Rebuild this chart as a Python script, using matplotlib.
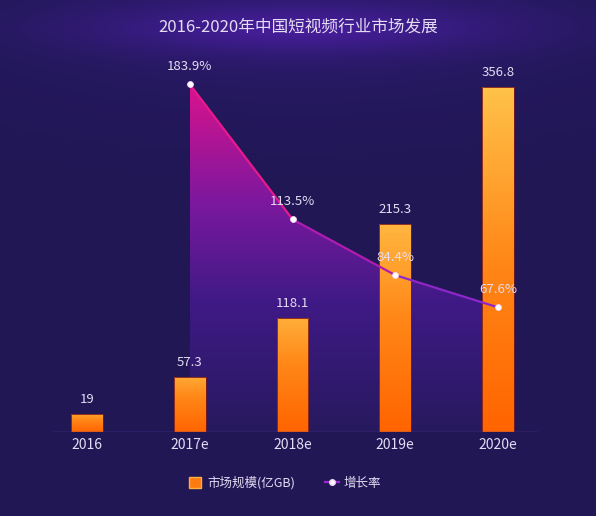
import numpy as np
import matplotlib
matplotlib.use("Agg")
import matplotlib.pyplot as plt
from matplotlib.colors import LinearSegmentedColormap
from matplotlib.collections import LineCollection
from matplotlib.lines import Line2D
from matplotlib.patches import Patch, Polygon

plt.rcParams['font.family'] = ['Noto Sans CJK SC', 'DejaVu Sans']

# data
years = ["2016", "2017e", "2018e", "2019e", "2020e"]
market_size = [19, 57.3, 118.1, 215.3, 356.8]  # 亿GB
growth_years = [1, 2, 3, 4]
growth_rate = [183.9, 113.5, 84.4, 67.6]  # %

title = "2016-2020年中国短视频行业市场发展"
bg = "#22175a"
txt = "#e4dcf2"

W, H = 596, 516
fig = plt.figure(figsize=(W / 100, H / 100), dpi=100)
fig.patch.set_facecolor(bg)

# background with a soft glow behind the title
bax = fig.add_axes([0, 0, 1, 1])
yy, xx = np.mgrid[0:H, 0:W]
glow = np.exp(-(((xx - 298) / 190.0) ** 2 + ((yy - 28) / 24.0) ** 2))
glow2 = np.exp(-(((xx - 298) / 320.0) ** 2 + ((yy - 20) / 90.0) ** 2))
base = np.array([0x21, 0x17, 0x55]) / 255
hi = np.array([0x4a, 0x1e, 0xa0]) / 255
mid = np.array([0x2a, 0x1a, 0x6a]) / 255
img = base[None, None, :] * np.ones((H, W, 1))
img = img + (mid - base)[None, None, :] * glow2[..., None]
img = img + (hi - img) * (0.85 * glow[..., None])
bax.imshow(np.clip(img, 0, 1), extent=[0, W, H, 0], aspect='auto')
bax.set_xlim(0, W)
bax.set_ylim(H, 0)
bax.axis('off')

# main axes: baseline at y=432px, left 53px, right 538px
ax = fig.add_axes([53 / W, (H - 432) / H, (538 - 53) / W, (432 - 60) / H])
ax.set_facecolor('none')
x = np.arange(len(years))
ax.set_xlim(-0.331, 4.389)
ax.set_ylim(0, 384.7)

# growth rate on a twin axis (drawn on top: line, dots, labels)
ax2 = ax.twinx()
ax2.set_xlim(-0.331, 4.389)
ax2.set_ylim(2.6, 196.6)
ax2.set_yticks([])
ax2.patch.set_visible(False)
for s in ax2.spines.values():
    s.set_visible(False)

# area under the growth line, placed behind the bars on the main axes
verts = [(growth_years[0], 0)] + list(zip(growth_years, growth_rate)) + [(growth_years[-1], 0)]
area = Polygon(verts, closed=True, facecolor='none', edgecolor='none',
               transform=ax2.transData)
ax.add_patch(area)
fill_cmap = LinearSegmentedColormap.from_list(
    "fill", [(0, "#27195e"), (0.35, "#3f1a86"), (0.62, "#7c189e"), (0.95, "#e0128c"), (1, "#e8148c")])
g2 = np.linspace(0, 1, 256).reshape(-1, 1)
im2 = ax.imshow(g2[::-1], cmap=fill_cmap, origin='upper',
                extent=[1, 4, 0, 384.7], aspect='auto', zorder=1)
im2.set_clip_path(area)

bar_w = 0.31
bars = ax.bar(x, market_size, width=bar_w, color='none', edgecolor='#7a1c1c',
              linewidth=0.6, zorder=3)
bar_cmap = LinearSegmentedColormap.from_list("bar", ["#ff6400", "#ff8818", "#ffc24a"])
grad = np.linspace(0, 1, 256).reshape(-1, 1)
for rect, v in zip(bars.patches, market_size):
    x0 = rect.get_x()
    k = 0.75 + 0.25 * v / 356.8
    im = ax.imshow(grad[::-1] * k, cmap=bar_cmap, vmin=0, vmax=1, origin='upper',
                   extent=[x0, x0 + bar_w, 0, v], aspect='auto', zorder=2)
    im.set_clip_path(rect)
    ax.text(rect.get_x() + bar_w / 2, v + 8, f"{v:g}", ha='center', va='bottom',
            color=txt, fontsize=9.5, zorder=6)

ax.axhline(0, color='#4a3aa0', linewidth=1.0, zorder=4)
for s in ax.spines.values():
    s.set_visible(False)
ax.set_yticks([])
ax.set_xticks(x)
ax.set_xticklabels(years, color=txt, fontsize=10)
ax.tick_params(axis='x', length=0, pad=4)

pts = np.column_stack([growth_years, growth_rate])
segs = np.stack([pts[:-1], pts[1:]], axis=1)
lc = LineCollection(segs, colors=["#e8188e", "#b01cb0", "#8e26c8"], linewidths=1.6,
                    zorder=5)
ax2.add_collection(lc)
ax2.scatter(growth_years, growth_rate, s=18, color='white', edgecolor='#f0d8f8',
            linewidth=0.6, zorder=6)
for gx, gr in zip(growth_years, growth_rate):
    ax2.text(gx, gr + 6, f"{gr}%", ha='center', va='bottom', color=txt,
             fontsize=9.5, zorder=7)

fig.text(0.5, (H - 27) / H, title, ha='center', va='center', color=txt, fontsize=12)

handles = [Patch(facecolor='#ff7a10', edgecolor='#ffb040'),
           Line2D([0], [0], color='#9a2ad0', marker='o', markersize=4,
                  markerfacecolor='white', markeredgecolor='#f0d8f8', linewidth=1.6)]
leg = fig.legend(handles, ["市场规模(亿GB)", "增长率"], loc='center',
                 bbox_to_anchor=(285 / W, (H - 483) / H), ncol=2, frameon=False,
                 fontsize=9, labelcolor=txt, handlelength=1.1, handleheight=1.0,
                 columnspacing=2.4, handletextpad=0.4)
leg.legend_handles[0].set_width(9)

fig.savefig("out.png", dpi=100, facecolor=fig.get_facecolor())
